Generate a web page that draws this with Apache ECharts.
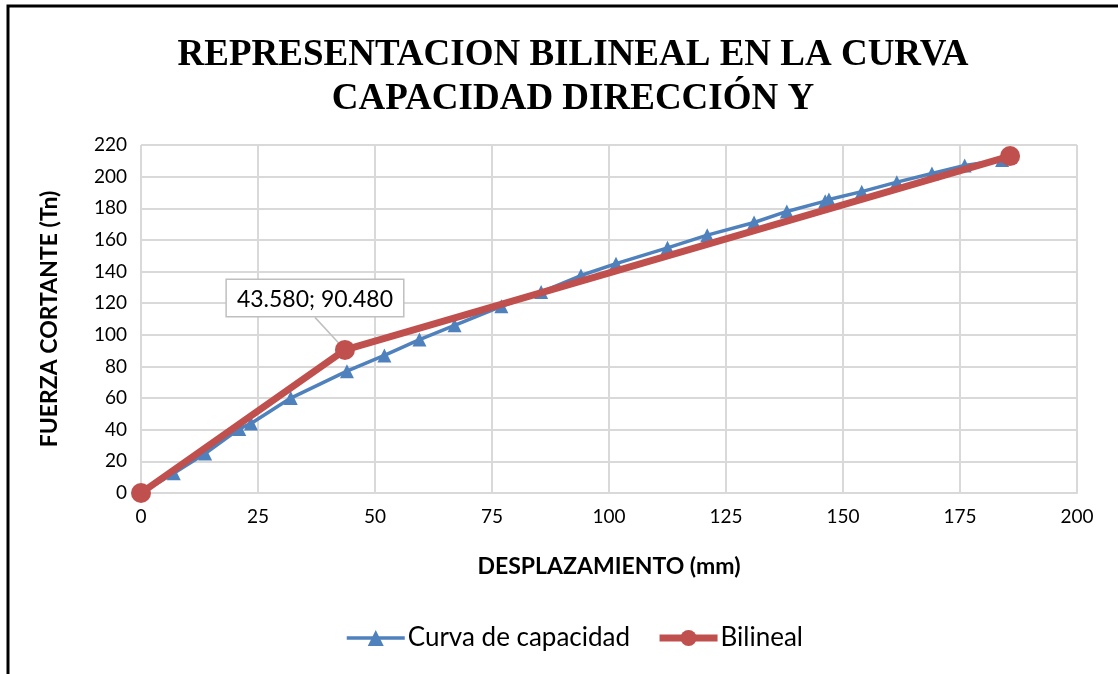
<!DOCTYPE html>
<html>
<head>
<meta charset="utf-8">
<title>Representacion bilineal</title>
<script src="https://cdn.jsdelivr.net/npm/echarts@6/dist/echarts.min.js"></script>
<style>
  html, body { margin: 0; padding: 0; background: #fff; }
  #chart { width: 1118px; height: 674px; }
</style>
</head>
<body>
<div id="chart"></div>
<script>
// curva de capacidad (desplazamiento mm, fuerza Tn)
const curvaX = [0, 7, 13.7, 21, 23.5, 32, 44, 52, 59.5, 67, 77, 85.5, 94, 101.5, 112.5, 121, 131, 138, 146.2, 147, 154, 161.5, 169, 176, 184];
const curvaY = [0, 12.5, 25, 40.5, 44, 60, 77, 87, 97, 106, 118, 127, 137.5, 145, 155, 163, 171, 178, 184.5, 185.5, 190.5, 196.5, 202, 207, 210.5];
// representacion bilineal
const bilinealX = [0, 43.58, 185.7];
const bilinealY = [0, 90.48, 213];
const puntoEtiqueta = 1; // punto de fluencia con etiqueta

const xTicks = { min: 0, max: 200, interval: 25 };
const yTicks = { min: 0, max: 220, interval: 20 };

const font = 'Lato, "Open Sans", sans-serif';
const azul = '#4f81bd';
const rojo = '#c0504d';

const chart = echarts.init(document.getElementById('chart'));

const bilinealData = bilinealX.map((x, i) => {
  const item = { value: [x, bilinealY[i]] };
  if (i === puntoEtiqueta) {
    item.label = {
      show: true,
      position: 'top',
      distance: 24,
      fontFamily: font,
      fontSize: 23,
      color: '#000',
      backgroundColor: '#fff',
      borderColor: '#bfbfbf',
      borderWidth: 1.5,
      padding: [8, 10, 5, 10],
      formatter: x.toFixed(3) + '; ' + bilinealY[i].toFixed(3),
    };
    item.labelLine = { show: true, lineStyle: { color: '#bfbfbf', width: 1.5 } };
  }
  return item;
});

const option = {
  backgroundColor: '#fff',
  animation: false,
  graphic: [
    {
      type: 'rect',
      shape: { x: 8, y: 6, width: 1200, height: 800 },
      style: { fill: 'none', stroke: '#000', lineWidth: 3 },
      silent: true,
    },
  ],
  title: {
    text: 'REPRESENTACION BILINEAL EN LA CURVA\nCAPACIDAD DIRECCIÓN Y',
    left: 568,
    top: 28,
    textAlign: 'center',
    textStyle: {
      fontFamily: '"Liberation Serif", "Times New Roman", serif',
      fontWeight: 'bold',
      fontSize: 37,
      lineHeight: 44,
      color: '#000',
    },
  },
  legend: {
    bottom: 18,
    left: 340,
    itemWidth: 58,
    itemHeight: 20,
    itemGap: 26,
    textStyle: { fontFamily: font, fontSize: 26, color: '#000', padding: [0, 0, 0, -2] },
    data: [
      { name: 'Curva de capacidad', lineStyle: { width: 3.5 } },
      { name: 'Bilineal', lineStyle: { width: 7 } },
    ],
  },
  grid: { left: 141, right: 41, top: 145, bottom: 181 },
  xAxis: {
    type: 'value',
    min: xTicks.min,
    max: xTicks.max,
    interval: xTicks.interval,
    name: 'DESPLAZAMIENTO (mm)',
    nameLocation: 'middle',
    nameGap: 62,
    nameTextStyle: { fontFamily: font, fontWeight: 'bold', fontSize: 23, color: '#000' },
    axisLine: { show: true, lineStyle: { color: '#d9d9d9', width: 2 } },
    axisTick: { show: false },
    axisLabel: { fontFamily: font, fontSize: 19, color: '#000', margin: 14 },
    splitLine: { show: true, lineStyle: { color: '#d9d9d9', width: 2 } },
  },
  yAxis: {
    type: 'value',
    min: yTicks.min,
    max: yTicks.max,
    interval: yTicks.interval,
    name: 'FUERZA CORTANTE (Tn)',
    nameLocation: 'middle',
    nameGap: 80,
    nameTextStyle: { fontFamily: font, fontWeight: 'bold', fontSize: 23, color: '#000' },
    axisLine: { show: false },
    axisTick: { show: false },
    axisLabel: { fontFamily: font, fontSize: 19, color: '#000', margin: 14 },
    splitLine: { show: true, lineStyle: { color: '#d9d9d9', width: 2 } },
  },
  series: [
    {
      name: 'Curva de capacidad',
      type: 'line',
      data: curvaX.map((x, i) => [x, curvaY[i]]),
      symbol: 'triangle',
      symbolSize: 14,
      showAllSymbol: true,
      lineStyle: { color: azul, width: 3.5 },
      itemStyle: { color: azul },
      z: 2,
    },
    {
      name: 'Bilineal',
      type: 'line',
      data: bilinealData,
      symbol: 'circle',
      symbolSize: 20,
      lineStyle: { color: rojo, width: 7 },
      itemStyle: { color: rojo },
      z: 3,
      labelLayout: (params) => (params.dataIndex === puntoEtiqueta ? { dx: -30 } : {}),
    },
  ],
};

chart.setOption(option);
</script>
</body>
</html>
